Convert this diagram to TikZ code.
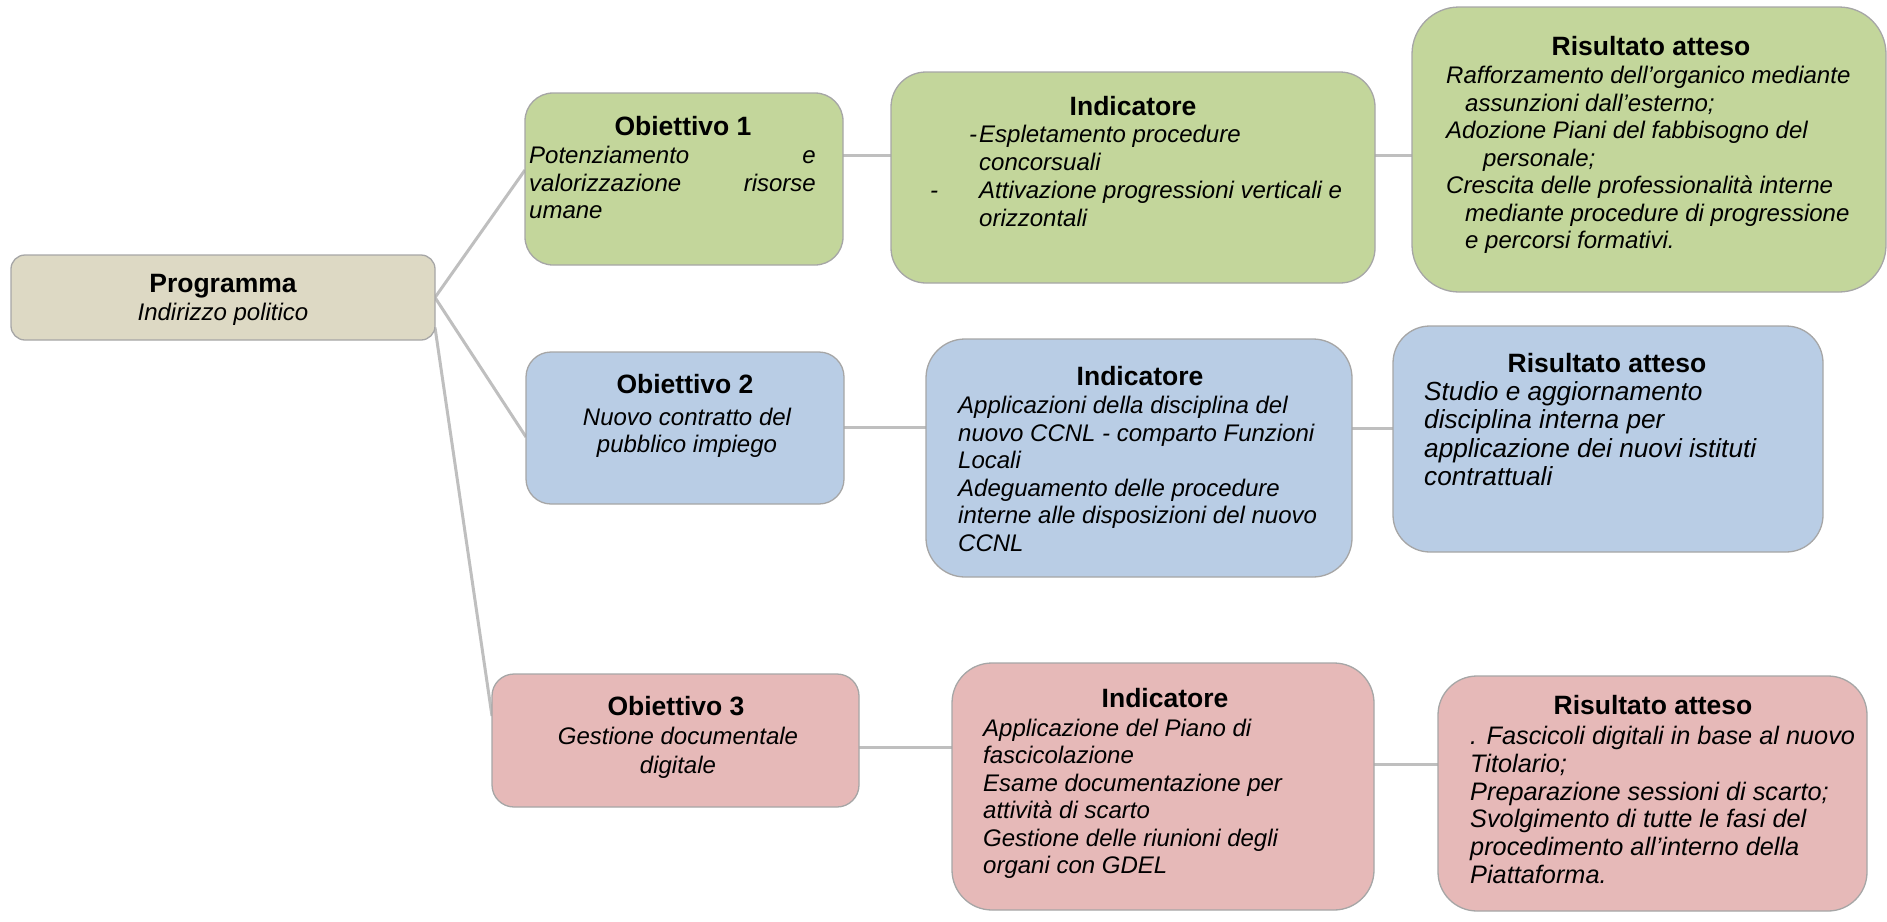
\documentclass[tikz,border=0pt]{standalone}
\usepackage{fontspec}
\setmainfont{Liberation Sans}
\usetikzlibrary{backgrounds}
\definecolor{tanfill}{HTML}{DDD9C4}
\definecolor{greenfill}{HTML}{C3D69B}
\definecolor{bluefill}{HTML}{B9CDE5}
\definecolor{pinkfill}{HTML}{E6B9B8}
\definecolor{bordergray}{HTML}{A6A6A6}
\definecolor{linegray}{HTML}{BFBFBF}
\tikzset{
  box/.style={draw=bordergray, line width=1.3pt, inner sep=0pt, outer sep=0pt, anchor=north west, rounded corners=#1},
  ttl/.style={inner sep=0pt, anchor=base, font=\bfseries\fontsize{26.5}{30}\selectfont},
  bd/.style={inner sep=0pt, anchor=base west, font=\itshape\fontsize{24}{28}\selectfont},
  bdc/.style={bd, anchor=base},
  bde/.style={bd, anchor=base east},
  conn/.style={draw=linegray, line width=3pt},
}
\begin{document}
\begin{tikzpicture}[x=1pt,y=-1pt]
\useasboundingbox (0,0) rectangle (1887,921);
% boxes
\node[box=14, fill=tanfill, minimum width=424pt, minimum height=85pt] (prog) at (11,255) {};
\node[box=28, fill=greenfill, minimum width=318pt, minimum height=172pt] (o1) at (525,93) {};
\node[box=35, fill=greenfill, minimum width=484pt, minimum height=211pt] (i1) at (891,72) {};
\node[box=47, fill=greenfill, minimum width=474pt, minimum height=285pt] (r1) at (1412,7) {};
\node[box=25, fill=bluefill, minimum width=318pt, minimum height=152pt] (o2) at (526,352) {};
\node[box=39, fill=bluefill, minimum width=426pt, minimum height=238pt] (i2) at (926,339) {};
\node[box=37, fill=bluefill, minimum width=430pt, minimum height=226pt] (r2) at (1393,326) {};
\node[box=22, fill=pinkfill, minimum width=367pt, minimum height=133pt] (o3) at (492,674) {};
\node[box=40, fill=pinkfill, minimum width=422pt, minimum height=247pt] (i3) at (952,663) {};
\node[box=39, fill=pinkfill, minimum width=429pt, minimum height=235pt] (r3) at (1438,676) {};
% connectors
\begin{scope}[on background layer]
\draw[conn] (prog.east) -- ([yshift=9pt]o1.west);
\draw[conn] (prog.east) -- ([yshift=-9pt]o2.west);
\draw[conn] ([yshift=-30pt]prog.east) -- ([yshift=24.5pt]o3.west);
\draw[conn] ([yshift=24pt]o1.east) -- ([yshift=24pt]o1.east -| i1.west);
\draw[conn] ([yshift=22.5pt]i1.east) -- ([yshift=22.5pt]i1.east -| r1.west);
\draw[conn] ([yshift=1pt]o2.east) -- ([yshift=1pt]o2.east -| i2.west);
\draw[conn] ([yshift=30pt]i2.east) -- ([yshift=30pt]i2.east -| r2.west);
\draw[conn] ([yshift=-6.5pt]o3.east) -- ([yshift=-6.5pt]o3.east -| i3.west);
\draw[conn] ([yshift=22.5pt]i3.east) -- ([yshift=22.5pt]i3.east -| r3.west);
\end{scope}
% Programma
\node[ttl] (prog-t) at (223,292) {Programma};
\node[bdc] (prog-b) at (223,320) {Indirizzo politico};
% Obiettivo 1
\node[ttl] (o1-t) at (683,135) {Obiettivo 1};
\node[bd] (o1-a) at (529,163) {Potenziamento};
\node[bde] (o1-b) at (816,163) {e};
\node[bd] (o1-c) at (529,191) {valorizzazione};
\node[bde] (o1-d) at (816,191) {risorse};
\node[bd] (o1-e) at (529,218) {umane};
% Indicatore 1
\node[ttl] (i1-t) at (1133,115) {Indicatore};
\node[bd] (i1-d1) at (969,142.7) {-};
\node[bd] (i1-a) at (979,142.7) {Espletamento procedure};
\node[bd] (i1-b) at (979,170.5) {concorsuali};
\node[bd] (i1-d2) at (930,198) {-};
\node[bd] (i1-c) at (979,198) {Attivazione progressioni verticali e};
\node[bd] (i1-e) at (979,226) {orizzontali};
% Risultato 1
\node[ttl] (r1-t) at (1651,55) {Risultato atteso};
\node[bd] (r1-a) at (1446,83) {Rafforzamento dell’organico mediante};
\node[bd] (r1-b) at (1465,111) {assunzioni dall’esterno;};
\node[bd] (r1-c) at (1446,138) {Adozione Piani del fabbisogno del};
\node[bd] (r1-d) at (1483,166) {personale;};
\node[bd] (r1-e) at (1446,193) {Crescita delle professionalità interne};
\node[bd] (r1-f) at (1465,221) {mediante procedure di progressione};
\node[bd] (r1-g) at (1465,248) {e percorsi formativi.};
% Obiettivo 2
\node[ttl] (o2-t) at (685,393) {Obiettivo 2};
\node[bdc] (o2-a) at (687,425) {Nuovo contratto del};
\node[bdc] (o2-b) at (687,452) {pubblico impiego};
% Indicatore 2
\node[ttl] (i2-t) at (1140,385) {Indicatore};
\foreach \yy/\bodyline [count=\k] in {413/Applicazioni della disciplina del, 441/nuovo CCNL - comparto Funzioni, 468/Locali, 496/Adeguamento delle procedure, 523/interne alle disposizioni del nuovo, 551/CCNL}
  \node[bd] (i2-\k) at (958,\yy) {\bodyline};
% Risultato 2
\node[ttl] (r2-t) at (1607,372) {Risultato atteso};
\foreach \yy/\bodyline [count=\k] in {400/Studio e aggiornamento, 428/disciplina interna per, 457/applicazione dei nuovi istituti, 485/contrattuali}
  \node[bd, font=\itshape\fontsize{26.2}{30}\selectfont] (r2-\k) at (1424,\yy) {\bodyline};
% Obiettivo 3
\node[ttl] (o3-t) at (676,715) {Obiettivo 3};
\node[bdc] (o3-a) at (678,744) {Gestione documentale};
\node[bdc] (o3-b) at (678,773) {digitale};
% Indicatore 3
\node[ttl] (i3-t) at (1165,707) {Indicatore};
\foreach \yy/\bodyline [count=\k] in {736/Applicazione del Piano di, 763/fascicolazione, 791/Esame documentazione per, 818/attività di scarto, 846/Gestione delle riunioni degli, 873/organi con GDEL}
  \node[bd] (i3-\k) at (983,\yy) {\bodyline};
% Risultato 3
\node[ttl] (r3-t) at (1653,714) {Risultato atteso};
\foreach \yy/\bodyline [count=\k] in {744/. Fascicoli digitali in base al nuovo, 772/Titolario;, 800/Preparazione sessioni di scarto;, 827/Svolgimento di tutte le fasi del, 855/procedimento all’interno della, 883/Piattaforma.}
  \node[bd, font=\itshape\fontsize{25.3}{29}\selectfont] (r3-\k) at (1470,\yy) {\bodyline};
\end{tikzpicture}
\end{document}
